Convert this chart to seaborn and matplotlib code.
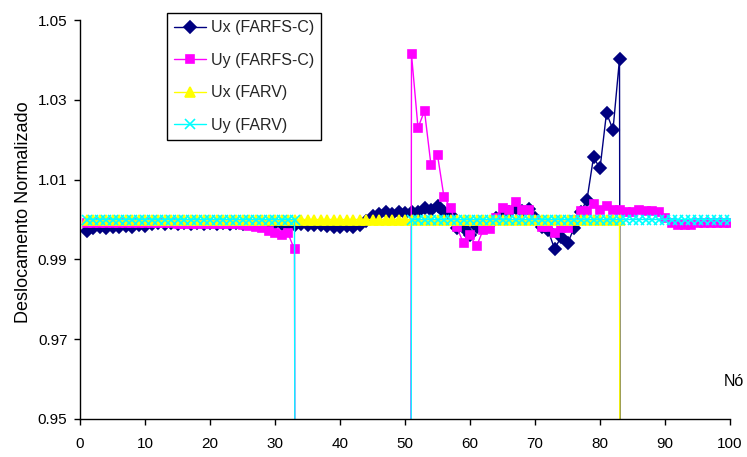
import numpy as np
import pandas as pd
import matplotlib
matplotlib.use("Agg")
import matplotlib.pyplot as plt
import seaborn as sns

nodes = list(range(1, 101))

ux_farfs = [0.9970, 0.9978, 0.9980, 0.9978, 0.9982, 0.9980, 0.9983, 0.9981, 0.9985, 0.9983,
            0.9988, 0.9990, 0.9988, 0.9990, 0.9989, 0.9990, 0.9989, 0.9990, 0.9989, 0.9990,
            0.9989, 0.9990, 0.9989, 0.9990, 0.9989, 0.9990, 0.9989, 0.9990, 0.9989, 0.9990,
            0.9988, 0.9989, 0.9987, 0.9988, 0.9987, 0.9986, 0.9985, 0.9983, 0.9982, 0.9981,
            0.9983, 0.9982, 0.9987, 0.9995, 1.0010, 1.0013, 1.0018, 1.0015, 1.0018, 1.0016,
            1.0018, 1.0020, 1.0030, 1.0025, 1.0035, 1.0020, 1.0012, 0.9978, 0.9978, 0.9962,
            0.9980, 0.9982, 0.9988, 1.0005, 1.0012, 1.0020, 1.0028, 1.0022, 1.0026, 1.0005,
            0.9980, 0.9973, 0.9927, 0.9955, 0.9940, 0.9978, 1.0018, 1.0050, 1.0156, 1.0128,
            1.0267, 1.0225, 1.0402, 0.0, 0.0, 0.0, 0.0, 0.0, 0.0, 0.0,
            0.0, 0.0, 0.0, 0.0, 0.0, 0.0, 0.0, 0.0, 0.0, 0.0]

uy_farfs = [0.9990, 0.9990, 0.9990, 0.9990, 0.9990, 0.9990, 0.9990, 0.9990, 0.9990, 0.9990,
            0.9990, 0.9990, 0.9990, 0.9990, 0.9989, 0.9989, 0.9989, 0.9989, 0.9989, 0.9989,
            0.9989, 0.9989, 0.9988, 0.9988, 0.9985, 0.9983, 0.9980, 0.9978, 0.9972, 0.9965,
            0.9960, 0.9965, 0.9925, 0.0, 0.0, 0.0, 0.0, 0.0, 0.0, 0.0,
            0.0, 0.0, 0.0, 0.0, 0.0, 0.0, 0.0, 0.0, 0.0, 0.0,
            1.0414, 1.0230, 1.0272, 1.0136, 1.0162, 1.0056, 1.0030, 0.9980, 0.9940, 0.9960,
            0.9933, 0.9973, 0.9977, 1.0005, 1.0030, 1.0025, 1.0045, 1.0023, 1.0023, 1.0000,
            0.9980, 0.9980, 0.9965, 0.9978, 0.9978, 1.0000, 1.0022, 1.0022, 1.0040, 1.0025,
            1.0035, 1.0025, 1.0025, 1.0020, 1.0020, 1.0023, 1.0022, 1.0022, 1.0020, 1.0005,
            0.9992, 0.9985, 0.9985, 0.9987, 0.9990, 0.9991, 0.9991, 0.9991, 0.9991, 0.9991]

ux_farv = [1.0] * 83 + [0.0] * 17
uy_farv = [1.0] * 33 + [0.0] * 17 + [1.0] * 50

series_names = ["Ux (FARFS-C)", "Uy (FARFS-C)", "Ux (FARV)", "Uy (FARV)"]
y_ticks = [0.95, 0.97, 0.99, 1.01, 1.03, 1.05]
x_ticks = list(range(0, 101, 10))

sns.set_theme(style="white")
plt.rcParams["font.family"] = ["Liberation Sans", "DejaVu Sans"]

fig = plt.figure(figsize=(7.47, 4.57), dpi=100)
ax = fig.add_axes([80 / 747, 38 / 457, 650 / 747, 399 / 457])

styles = [
    (ux_farfs, "#000080", "D", 6.0, 1.0),
    (uy_farfs, "#FF00FF", "s", 6.0, 1.0),
    (ux_farv, "#FFFF00", "^", 7.0, 1.0),
    (uy_farv, "#00FFFF", "x", 6.5, 1.0),
]
for (vals, col, mk, ms, lw), name in zip(styles, series_names):
    df = pd.DataFrame({"node": nodes, "val": vals})
    sns.lineplot(data=df, x="node", y="val", ax=ax, color=col, marker=mk,
                 markersize=ms, markeredgecolor=col, markerfacecolor=col,
                 markeredgewidth=1.2, linewidth=lw, label=name, sort=False,
                 estimator=None)

ax.set_xlim(0, 100)
ax.set_ylim(0.95, 1.05)
ax.set_xticks(x_ticks)
ax.set_yticks(y_ticks)
ax.set_yticklabels([f"{t:.2f}" for t in y_ticks])
ax.tick_params(axis="both", direction="out", length=4, width=1, colors="black",
               labelsize=11, pad=5, left=True, bottom=True)
ax.tick_params(axis="x", pad=9)
for s in ["top", "right"]:
    ax.spines[s].set_visible(False)
for s in ["left", "bottom"]:
    ax.spines[s].set_color("black")
    ax.spines[s].set_linewidth(1.0)
ax.grid(False)

ax.set_ylabel("Deslocamento Normalizado", fontsize=13, color="black", va="center")
ax.yaxis.set_label_coords(-0.087, 0.519)
ax.set_xlabel("Nó", fontsize=11.5, color="black", ha="right", va="center")
ax.xaxis.set_label_coords(1.0215, 0.095)

leg = ax.legend(loc="upper left", bbox_to_anchor=(0.134, 1.0175), borderaxespad=0,
                frameon=True, fancybox=False, framealpha=1, edgecolor="black",
                fontsize=11.5, handlelength=2.0, handletextpad=0.3,
                labelspacing=1.1, borderpad=0.45)
leg.get_frame().set_linewidth(1.0)

fig.savefig("out.png", dpi=100)
